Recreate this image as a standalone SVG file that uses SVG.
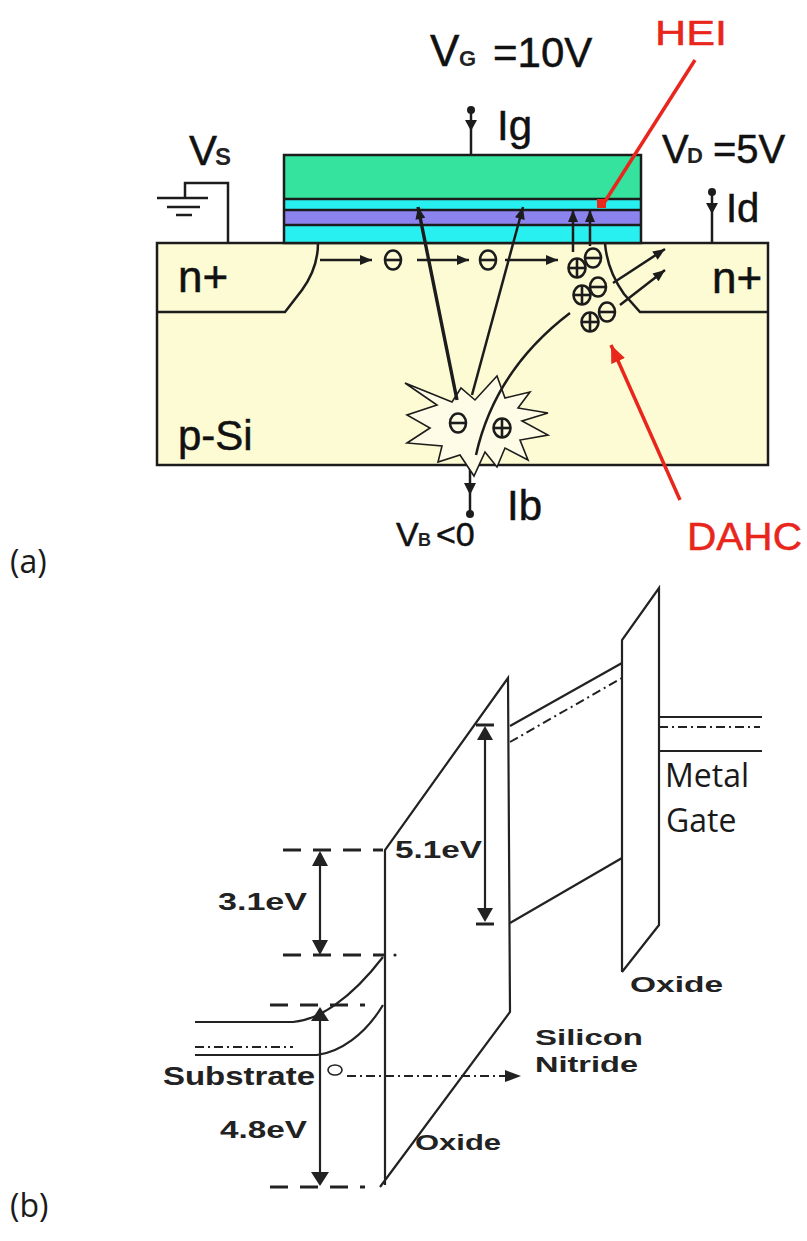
<svg xmlns="http://www.w3.org/2000/svg" width="807" height="1241" viewBox="0 0 807 1241">
  <defs>
    <style>
      .ln { stroke: #1c1c1c; stroke-width: 2.5; fill: none; }
      .band { stroke: #222; stroke-width: 2.2; fill: none; }
      .lvl { stroke: #222; stroke-width: 3; fill: none; stroke-dasharray: 18 12; }
      .dd { stroke: #222; stroke-width: 2; fill: none; stroke-dasharray: 9 4 2 4; }
      .red { stroke: #e8261c; stroke-width: 3.5; fill: none; }
      .t { font-family: "Liberation Sans", Arial, sans-serif; fill: #111; stroke: #111; stroke-width: 0.5; }
      .tb { font-family: "Liberation Sans", Arial, sans-serif; font-weight: bold; fill: #222; }
      .tc { font-family: "Open Sans", "Noto Sans", sans-serif; fill: #1a1a1a; }
      .tr { font-family: "Liberation Sans", Arial, sans-serif; fill: #e8261c; stroke: #e8261c; stroke-width: 0.5; }
      .chg { stroke: #1c1c1c; stroke-width: 2.6; fill: none; }
    </style>
    <marker id="ah" viewBox="0 0 12 10" refX="12" refY="5" markerWidth="13" markerHeight="10" markerUnits="userSpaceOnUse" orient="auto">
      <path d="M0,0 L12,5 L0,10 z" fill="#1c1c1c"/>
    </marker>
    <marker id="ahr" viewBox="0 0 14 12" refX="14" refY="6" markerWidth="18" markerHeight="15" markerUnits="userSpaceOnUse" orient="auto">
      <path d="M0,0 L14,6 L0,12 z" fill="#e8261c"/>
    </marker>
    <g id="neg">
      <ellipse class="chg" rx="8" ry="9.5"/>
      <line class="chg" x1="-8" y1="0" x2="8" y2="0"/>
    </g>
    <g id="pos">
      <ellipse class="chg" rx="8.5" ry="9.5"/>
      <line class="chg" x1="-8.5" y1="0" x2="8.5" y2="0"/>
      <line class="chg" x1="0" y1="-9.5" x2="0" y2="9.5"/>
    </g>
  </defs>

  <rect width="807" height="1241" fill="#ffffff"/>

  <!-- ===== (a) MOSFET cross-section ===== -->
  <g id="substrate">
    <rect x="157" y="243" width="611" height="222" fill="#fdfbd4" stroke="#1c1c1c" stroke-width="2.5"/>
    <path class="ln" d="M157 312 L285 312 L302 290 Q318 268 318 243"/>
    <path class="ln" d="M768 312 L640 312 L624 294 Q607 270 605 243"/>
    <text class="t" x="178" y="292" font-size="44">n+</text>
    <text class="t" x="712" y="293" font-size="44">n+</text>
    <text class="t" x="178" y="450" font-size="42">p-Si</text>
  </g>

  <g id="gate-stack">
    <rect x="284" y="155" width="357" height="44" fill="#35e39e"/>
    <rect x="284" y="199" width="357" height="11" fill="#28f0f0"/>
    <rect x="284" y="210" width="357" height="15" fill="#8c84ee"/>
    <rect x="284" y="225" width="357" height="18" fill="#28f0f0"/>
    <line class="ln" x1="284" y1="199" x2="641" y2="199"/>
    <line class="ln" x1="284" y1="210" x2="641" y2="210"/>
    <line class="ln" x1="284" y1="225" x2="641" y2="225"/>
    <rect x="284" y="155" width="357" height="88" fill="none" stroke="#1c1c1c" stroke-width="2.5"/>
  </g>

  <g id="gate-terminal">
    <line class="ln" x1="471" y1="110" x2="471" y2="155"/>
    <circle cx="471" cy="110" r="4" fill="#1c1c1c"/>
    <path d="M465 120 L477 120 L471 131 z" fill="#1c1c1c"/>
    <text class="t" x="430" y="66" font-size="44">V</text>
    <text class="tb" x="459" y="66" font-size="22" fill="#111">G</text>
    <text class="t" x="493" y="67" font-size="42">=10V</text>
    <text class="t" x="497" y="140" font-size="42">Ig</text>
  </g>

  <g id="source-terminal">
    <path class="ln" d="M185 198 L185 183 L228 183 L228 243"/>
    <line class="ln" x1="157" y1="198" x2="208" y2="198"/>
    <line class="ln" x1="167" y1="207" x2="200" y2="207"/>
    <line class="ln" x1="176" y1="215" x2="192" y2="215"/>
    <text class="t" x="189" y="165" font-size="42">V</text>
    <text class="tb" x="215" y="165" font-size="24" fill="#111">S</text>
  </g>

  <g id="drain-terminal">
    <line class="ln" x1="712" y1="192" x2="712" y2="243"/>
    <circle cx="712" cy="192" r="4" fill="#1c1c1c"/>
    <path d="M706 203 L718 203 L712 214 z" fill="#1c1c1c"/>
    <text class="t" x="662" y="163" font-size="40">V</text>
    <text class="tb" x="687" y="163" font-size="22" fill="#111">D</text>
    <text class="t" x="713" y="163" font-size="40">=5V</text>
    <text class="t" x="726" y="222" font-size="40">Id</text>
  </g>

  <g id="body-terminal">
    <line class="ln" x1="470" y1="456" x2="470" y2="512"/>
    <circle cx="470" cy="514" r="4" fill="#1c1c1c"/>
    <path d="M464 483 L476 483 L470 495 z" fill="#1c1c1c"/>
    <text class="t" x="396" y="546" font-size="34">V</text>
    <text class="tb" x="418" y="546" font-size="18" fill="#111">B</text>
    <text class="t" x="436" y="546" font-size="34">&lt;0</text>
    <text class="t" x="507" y="520" font-size="42">Ib</text>
  </g>

  <g id="impact-ionization">
    <polygon points="405,383 452,402 461,388 475,400 497,376 505,398 530,392 518,408 548,413 522,421 548,435 520,440 528,460 505,448 497,467 485,452 474,476 460,455 438,462 442,446 407,443 430,428 407,415 437,405" fill="#fefce6" stroke="#1c1c1c" stroke-width="1.6"/>
    <use href="#neg" x="458" y="423"/>
    <use href="#pos" x="502" y="428"/>
  </g>

  <g id="carriers">
    <use href="#neg" x="393" y="260"/>
    <use href="#neg" x="488" y="260"/>
    <use href="#pos" x="577" y="268"/>
    <use href="#neg" x="593" y="258"/>
    <use href="#pos" x="582" y="295"/>
    <use href="#neg" x="598" y="287"/>
    <use href="#pos" x="590" y="322"/>
    <use href="#neg" x="607" y="312"/>
  </g>

  <g id="connectors">
    <line class="ln" x1="320" y1="260" x2="372" y2="260" marker-end="url(#ah)"/>
    <line class="ln" x1="417" y1="260" x2="469" y2="260" marker-end="url(#ah)"/>
    <line class="ln" x1="505" y1="260" x2="558" y2="260" marker-end="url(#ah)"/>
    <line class="ln" x1="573" y1="252" x2="573" y2="210" marker-end="url(#ah)"/>
    <line class="ln" x1="590" y1="246" x2="590" y2="210" marker-end="url(#ah)"/>
    <line x1="457" y1="400" x2="418" y2="207" stroke="#1c1c1c" stroke-width="3.4" marker-end="url(#ah)"/>
    <line class="ln" x1="472" y1="395" x2="523" y2="207" marker-end="url(#ah)"/>
    <path class="ln" d="M476 455 Q495 370 570 313"/>
    <line class="ln" x1="613" y1="283" x2="665" y2="249" marker-end="url(#ah)"/>
    <line class="ln" x1="620" y1="305" x2="665" y2="270" marker-end="url(#ah)"/>
    <line class="red" x1="695" y1="60" x2="604" y2="203"/>
    <rect x="597" y="199" width="9" height="9" fill="#e8261c"/>
    <line class="red" x1="680" y1="500" x2="611" y2="345" marker-end="url(#ahr)"/>
  </g>

  <g id="callouts">
    <text class="tr" x="655" y="45" font-size="35" textLength="72" lengthAdjust="spacingAndGlyphs">HEI</text>
    <text class="tr" x="687" y="550" font-size="38" textLength="115" lengthAdjust="spacingAndGlyphs">DAHC</text>
  </g>

  <text class="tc" x="10" y="573" font-size="32">(a)</text>

  <!-- ===== (b) energy band diagram ===== -->
  <g id="substrate-bands">
    <path class="band" d="M195 1022 L293 1022 C318 1020 350 1000 383 957"/>
    <path class="band" d="M195 1055 L317 1055 C340 1052 365 1035 383 1005"/>
    <line class="dd" x1="195" y1="1047" x2="293" y2="1047"/>
    <text class="tb" x="163" y="1085" font-size="26" textLength="152" lengthAdjust="spacingAndGlyphs">Substrate</text>
  </g>

  <g id="levels">
    <line class="lvl" x1="283" y1="850" x2="383" y2="850"/>
    <line class="lvl" x1="283" y1="955" x2="385" y2="955"/>
    <circle cx="395" cy="955" r="1.6" fill="#222"/>
    <line class="lvl" x1="270" y1="1005" x2="365" y2="1005"/>
    <line class="lvl" x1="270" y1="1187" x2="365" y2="1187"/>
  </g>

  <g id="tunnel-oxide">
    <path class="band" d="M385 1185 L385 850 L508 678 L510 1012 L380 1187"/>
    <text class="tb" x="415" y="1150" font-size="22" textLength="86" lengthAdjust="spacingAndGlyphs">Oxide</text>
  </g>

  <g id="nitride">
    <line class="band" x1="510" y1="726" x2="622" y2="663"/>
    <line class="dd" x1="510" y1="742" x2="622" y2="678"/>
    <line class="band" x1="510" y1="923" x2="622" y2="858"/>
    <text class="tb" x="535" y="1045" font-size="22" textLength="108" lengthAdjust="spacingAndGlyphs">Silicon</text>
    <text class="tb" x="535" y="1072" font-size="22" textLength="103" lengthAdjust="spacingAndGlyphs">Nitride</text>
  </g>

  <g id="blocking-oxide">
    <path class="band" d="M622 972 L622 640 L659 588 L659 925 L622 972"/>
    <text class="tb" x="630" y="992" font-size="22" textLength="93" lengthAdjust="spacingAndGlyphs">Oxide</text>
  </g>

  <g id="metal-gate">
    <line class="band" x1="659" y1="717" x2="762" y2="717"/>
    <line class="dd" x1="659" y1="727" x2="760" y2="727"/>
    <line class="band" x1="659" y1="751" x2="762" y2="751"/>
    <text class="tc" x="665" y="787" font-size="32">Metal</text>
    <text class="tc" x="666" y="832" font-size="32">Gate</text>
  </g>

  <g id="gap-arrows">
    <line class="band" x1="320" y1="860" x2="320" y2="945"/>
    <path d="M320 851 L312 866 L328 866 z" fill="#222"/>
    <path d="M312 940 L328 940 L320 955 z" fill="#222"/>
    <text class="tb" x="218" y="910" font-size="24" textLength="89" lengthAdjust="spacingAndGlyphs">3.1eV</text>

    <line class="band" x1="320" y1="1015" x2="320" y2="1178"/>
    <path d="M320 1007 L311 1021 L329 1021 z" fill="#222"/>
    <path d="M311 1172 L329 1172 L320 1186 z" fill="#222"/>
    <text class="tb" x="220" y="1138" font-size="24" textLength="87" lengthAdjust="spacingAndGlyphs">4.8eV</text>

    <line class="band" x1="485" y1="735" x2="485" y2="915"/>
    <line x1="476" y1="725" x2="494" y2="725" stroke="#222" stroke-width="3"/>
    <path d="M485 726 L477 740 L493 740 z" fill="#222"/>
    <path d="M477 908 L493 908 L485 922 z" fill="#222"/>
    <line x1="476" y1="924" x2="494" y2="924" stroke="#222" stroke-width="3"/>
    <text class="tb" x="395" y="858" font-size="24" textLength="87" lengthAdjust="spacingAndGlyphs">5.1eV</text>
  </g>

  <g id="hole-tunneling">
    <ellipse cx="335" cy="1070" rx="7" ry="5" fill="#fff" stroke="#222" stroke-width="1.6"/>
    <line class="dd" x1="347" y1="1076" x2="506" y2="1076"/>
    <path d="M505 1070 L521 1076 L505 1082 z" fill="#222"/>
  </g>

  <text class="tc" x="10" y="1217" font-size="32">(b)</text>
</svg>
